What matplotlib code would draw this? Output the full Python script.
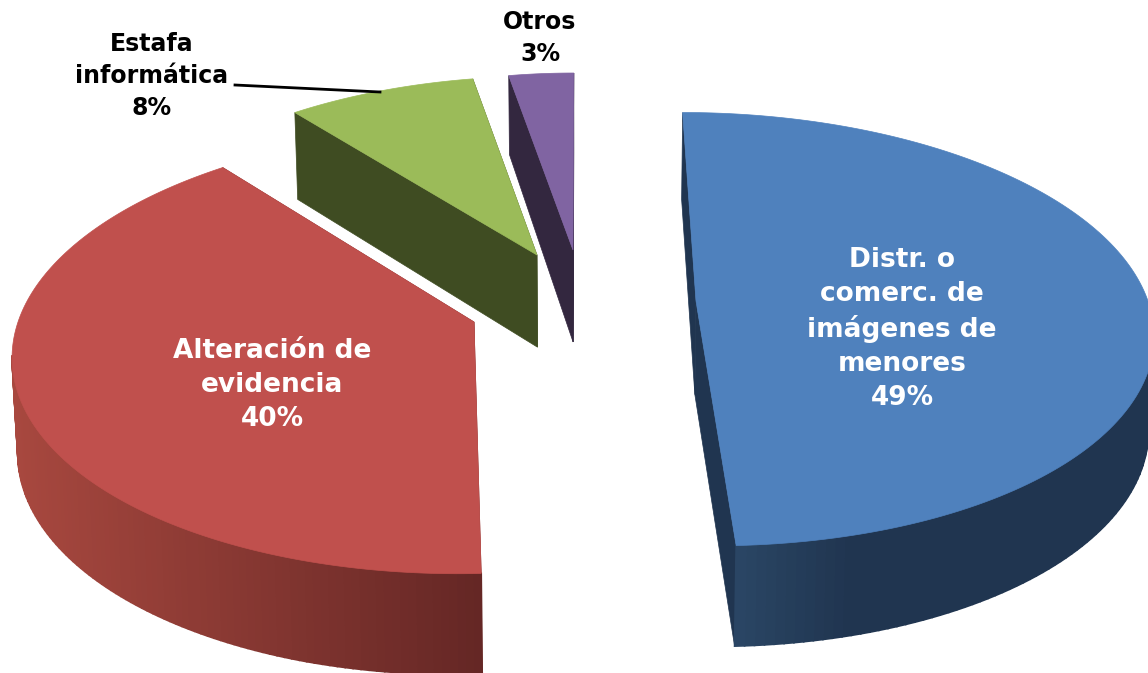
import numpy as np
import matplotlib
matplotlib.use('Agg')
import matplotlib.pyplot as plt
from matplotlib.colors import to_rgb
from matplotlib.patches import Polygon

# Shares (labels show them rounded)
categories = ['Distr. o\ncomerc. de\nimágenes de\nmenores', 'Alteración de\nevidencia',
              'Estafa\ninformática', 'Otros']
shares = [49.3, 39.85, 7.95, 2.9]
share_labels = ['49%', '40%', '8%', '3%']

top_colors = ['#4F81BD', '#C0504D', '#9BBB59', '#8064A2']
face_colors = ['#203550', '#7A302E', '#3F4C22', '#33273F']

# per slice: apex x, apex y, radius x, radius y
slice_geom = [(696, 301, 452, 213), (474, 322, 456, 219), (537, 255, 430, 202), (573, 250, 405, 200)]
label_pos = [(902, 329), (272, 385), (152, 76), (540, 38)]
label_colors = ['white', 'white', 'black', 'black']
label_sizes = [19, 19, 17, 17]
label_spacing = [1.39, 1.39, 1.42, 1.42]

# perspective settings
cx = 580
persp = 0.13
shrink = 0.99


def project(ax_, ay_, rx, ry, theta, r=1.0):
    s = 1 / (1 + persp * r * np.cos(theta))
    x = cx + (ax_ - cx + rx * r * np.sin(theta)) * s
    y = ay_ - ry * r * np.cos(theta) * s
    return x, y


def lower(x, y):
    # same point on the underside of the pie
    depth = np.interp(y, [78, 113, 250, 560], [79, 87, 92, 101])
    return cx + (x - cx) * shrink, y + depth


def wall_color(i, x):
    if i == 0:
        t = np.clip((x - 733) / 120, 0, 1)
        a, b = to_rgb('#2B4766'), to_rgb('#203550')
    else:
        t = np.clip((x - 12) / 470, 0, 1)
        a, b = to_rgb('#A8483F'), to_rgb('#652725')
    return tuple(a[k] + (b[k] - a[k]) * t for k in range(3))


fig = plt.figure(figsize=(11.48, 6.73), dpi=100)
ax = fig.add_axes([0, 0, 1, 1])
ax.set_xlim(0, 1148)
ax.set_ylim(673, 0)
ax.axis('off')

edges = np.cumsum([0] + shares) / sum(shares) * 2 * np.pi

for i in [3, 2, 1, 0]:
    ax0, ay0, rx, ry = slice_geom[i]
    t0, t1 = edges[i], edges[i + 1]
    thetas = np.linspace(t0, t1, 160)
    x, y = project(ax0, ay0, rx, ry, thetas)
    xb, yb = lower(x, y)
    axb, ayb = lower(np.array(ax0, dtype=float), np.array(ay0, dtype=float))

    # flat cut faces
    for k in [0, -1]:
        ax.add_patch(Polygon([(ax0, ay0), (x[k], y[k]), (xb[k], yb[k]), (axb, ayb)],
                             closed=True, fc=face_colors[i], ec=face_colors[i], lw=0.5, zorder=i + 1))

    # outer wall, front part only
    if i < 2:
        for k in range(len(thetas) - 1):
            if np.cos(thetas[k]) > -0.15:
                continue
            col = wall_color(i, x[k])
            ax.add_patch(Polygon([(x[k], y[k]), (x[k + 1], y[k + 1]), (xb[k + 1], yb[k + 1]), (xb[k], yb[k])],
                                 closed=True, fc=col, ec=col, lw=1.2, zorder=i + 1))

    # top surface
    ax.add_patch(Polygon(np.column_stack([np.r_[ax0, x], np.r_[ay0, y]]),
                         closed=True, fc=top_colors[i], ec=top_colors[i], lw=0.5, zorder=i + 1.5))

# leader line for the small slice
ax.plot([235, 380], [85, 92], color='black', lw=2, zorder=6)

for name, pct, pos, col, size, sp in zip(categories, share_labels, label_pos, label_colors,
                                         label_sizes, label_spacing):
    ax.text(pos[0], pos[1], name + '\n' + pct, color=col, ha='center', va='center',
            multialignment='center', fontsize=size, fontweight='bold', family='DejaVu Sans',
            linespacing=sp, zorder=7)

fig.savefig('out.png', dpi=100)
